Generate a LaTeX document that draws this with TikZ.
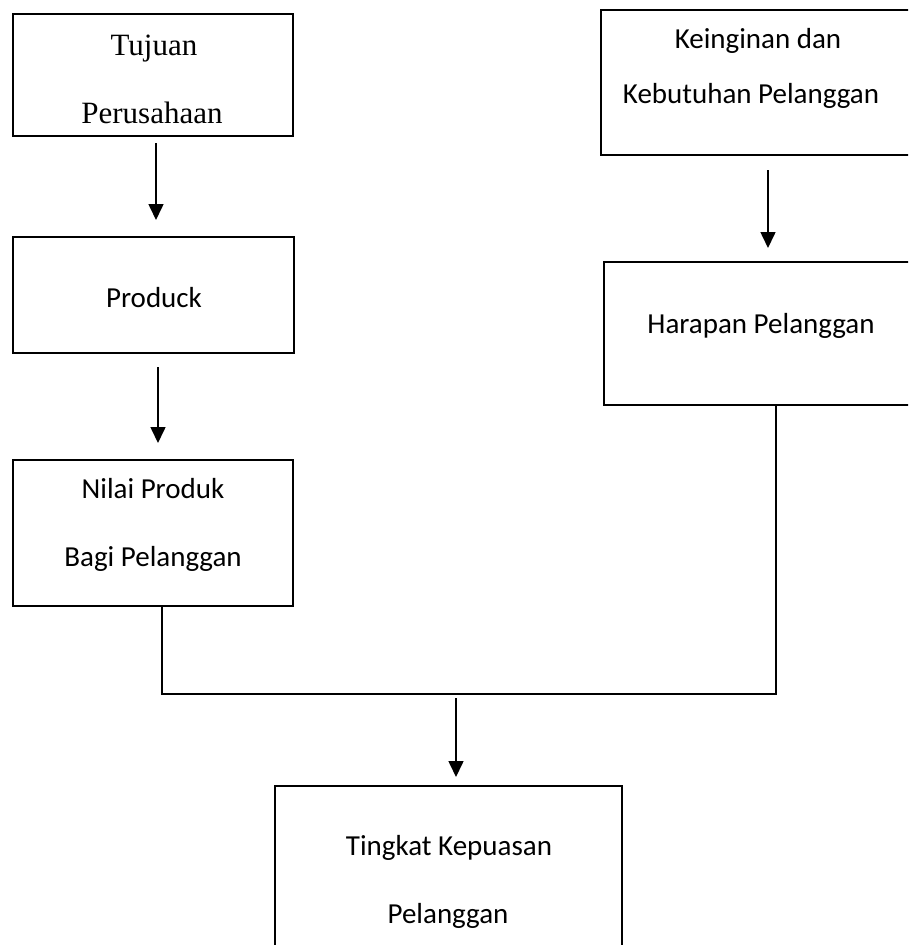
\documentclass[tikz,border=0pt]{standalone}
\usepackage{fontspec}
\setmainfont{Liberation Serif}
\newfontfamily\carl{Carlito}
\usetikzlibrary{arrows.meta}
\begin{document}
\begin{tikzpicture}[x=1pt,y=-1pt,
  box/.style={draw,line width=1.5pt,inner sep=0pt,outer sep=0pt},
  lbl/.style={anchor=base,inner sep=0pt,font=\carl\fontsize{29}{34}\selectfont},
  slbl/.style={anchor=base,inner sep=0pt,font=\fontsize{31}{36}\selectfont},
  arr/.style={line width=1.6pt,-{Triangle[width=15pt,length=16pt]}},
  ln/.style={line width=1.6pt}]
\useasboundingbox (0,0) rectangle (908,945);
\clip (0,0) rectangle (908,945);
\fill[white] (0,0) rectangle (908,945);
% boxes
\node[box,minimum width=280pt,minimum height=122pt] (t1) at (153,75) {};
\node[box,minimum width=314pt,minimum height=145pt] (kk) at (758,82.5) {};
\node[box,minimum width=281pt,minimum height=116pt] (prod) at (153.5,295) {};
\node[box,minimum width=314pt,minimum height=143pt] (hp) at (761,333.5) {};
\node[box,minimum width=280pt,minimum height=146pt] (nil) at (153,533) {};
\node[box,minimum width=347pt,minimum height=169pt] (tk) at (448.5,870.5) {};
% texts
\node[slbl] (t1a) at (154,55) {Tujuan};
\node[slbl] (t1b) at (152,123) {Perusahaan};
\node[lbl] (kka) at (758,48) {Keinginan dan};
\node[lbl] (kkb) at (751,103) {Kebutuhan Pelanggan};
\node[lbl] (hpa) at (761,333) {Harapan Pelanggan};
\node[lbl] (pra) at (154,307) {Produck};
\node[lbl] (nia) at (153,498) {Nilai Produk};
\node[lbl] (nib) at (153,566) {Bagi Pelanggan};
\node[lbl] (tka) at (449,855) {Tingkat Kepuasan};
\node[lbl] (tkb) at (448,923) {Pelanggan};
% connectors
\coordinate (hl) at (162,694);
\coordinate (hr) at (776,694);
\coordinate (jn) at (456,694);
\draw[arr] ([xshift=3pt,yshift=-7pt]t1.south) -- ([xshift=2.5pt,yshift=17pt]prod.north);
\draw[arr] ([xshift=4.5pt,yshift=-14pt]prod.south) -- ([xshift=5pt,yshift=17pt]nil.north);
\draw[arr] ([xshift=10pt,yshift=-15pt]kk.south) -- ([xshift=7pt,yshift=14pt]hp.north);
\draw[ln] ([xshift=9pt]nil.south) -- (hl) -- (hr) -- ([xshift=15pt]hp.south);
\draw[arr] ([yshift=-4pt]jn) -- ([xshift=7.5pt,yshift=9pt]tk.north);
\end{tikzpicture}
\end{document}
